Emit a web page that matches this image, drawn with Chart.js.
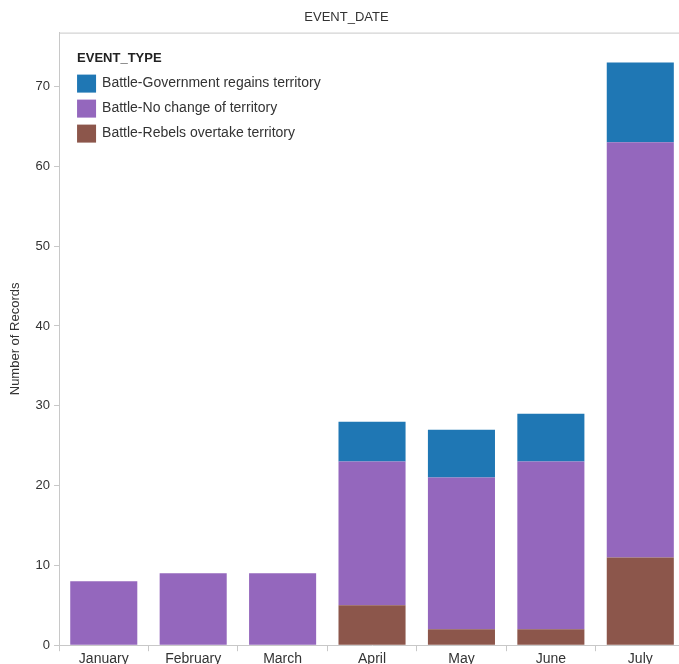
<!DOCTYPE html>
<html>
<head>
<meta charset="utf-8">
<script src="https://cdn.jsdelivr.net/npm/chart.js@4/dist/chart.umd.min.js"></script>
<style>
  html, body { margin: 0; padding: 0; background: #fff; overflow: hidden; }
  #wrap { width: 685px; height: 668px; }
</style>
</head>
<body>
<div id="wrap"><canvas id="chart"></canvas></div>
<script>
// 데이터
const months = ['January', 'February', 'March', 'April', 'May', 'June', 'July'];
const rebelsOvertake = [0, 0, 0, 5, 2, 2, 11];
const noChange = [8, 9, 9, 18, 19, 21, 52];
const govRegains = [0, 0, 0, 5, 6, 6, 10];

const FONT = 'Liberation Sans, Arial, sans-serif';

// 위쪽 테두리 선
const topLine = {
    id: 'topLine',
    afterDraw(chart) {
        const { ctx, chartArea } = chart;
        ctx.save();
        ctx.strokeStyle = '#c8c8c8';
        ctx.lineWidth = 1;
        ctx.beginPath();
        ctx.moveTo(chartArea.left, chartArea.top + 0.5);
        ctx.lineTo(chart.width, chartArea.top + 0.5);
        ctx.stroke();
        ctx.restore();
    }
};

// 차트 안쪽 범례 (제목 포함)
const innerLegend = {
    id: 'innerLegend',
    afterDraw(chart) {
        const { ctx, chartArea } = chart;
        const x = chartArea.left + 18;
        let y = chartArea.top + 26;
        ctx.save();
        ctx.textBaseline = 'middle';
        ctx.textAlign = 'left';
        ctx.fillStyle = '#222';
        ctx.font = 'bold 13px ' + FONT;
        ctx.fillText('EVENT_TYPE', x, y);
        const items = chart.data.datasets.slice().reverse();
        ctx.font = '14px ' + FONT;
        items.forEach(ds => {
            y += 25;
            ctx.fillStyle = ds.backgroundColor;
            ctx.fillRect(x, y - 9, 19, 18);
            ctx.fillStyle = '#333';
            ctx.fillText(ds.label, x + 25, y);
        });
        ctx.restore();
    }
};

new Chart(document.getElementById('chart'), {
    type: 'bar',
    data: {
        labels: months,
        datasets: [
            { label: 'Battle-Rebels overtake territory', data: rebelsOvertake, backgroundColor: '#8c564b' },
            { label: 'Battle-No change of territory', data: noChange, backgroundColor: '#9467bd' },
            { label: 'Battle-Government regains territory', data: govRegains, backgroundColor: '#1f77b4' }
        ]
    },
    options: {
        responsive: true,
        maintainAspectRatio: false,
        animation: false,
        barPercentage: 0.75,
        categoryPercentage: 1,
        layout: { padding: { top: 0, right: 0, bottom: 0, left: 8 } },
        scales: {
            x: {
                stacked: true,
                border: { color: '#c8c8c8' },
                grid: { display: true, drawOnChartArea: false, color: '#c8c8c8', tickLength: 6, offset: true },
                ticks: { color: '#333', font: { family: FONT, size: 14 }, padding: 0, maxRotation: 0 }
            },
            y: {
                stacked: true,
                min: 0,
                max: 76.75,
                afterBuildTicks: scale => {
                    scale.ticks = scale.ticks.filter(t => t.value % 10 === 0);
                },
                border: { color: '#c8c8c8' },
                grid: { display: true, drawOnChartArea: false, color: '#c8c8c8', tickLength: 5 },
                ticks: { stepSize: 10, color: '#333', font: { family: FONT, size: 13 }, padding: 4 },
                title: { display: true, text: 'Number of Records', color: '#333', font: { family: FONT, size: 13 }, padding: { top: 0, bottom: 8 } }
            }
        },
        plugins: {
            title: {
                display: true,
                text: 'EVENT_DATE',
                color: '#333',
                font: { family: FONT, size: 13, weight: 'normal' },
                padding: { top: 10, bottom: 7 }
            },
            legend: { display: false },
            tooltip: { enabled: false }
        }
    },
    plugins: [topLine, innerLegend]
});
</script>
</body>
</html>
